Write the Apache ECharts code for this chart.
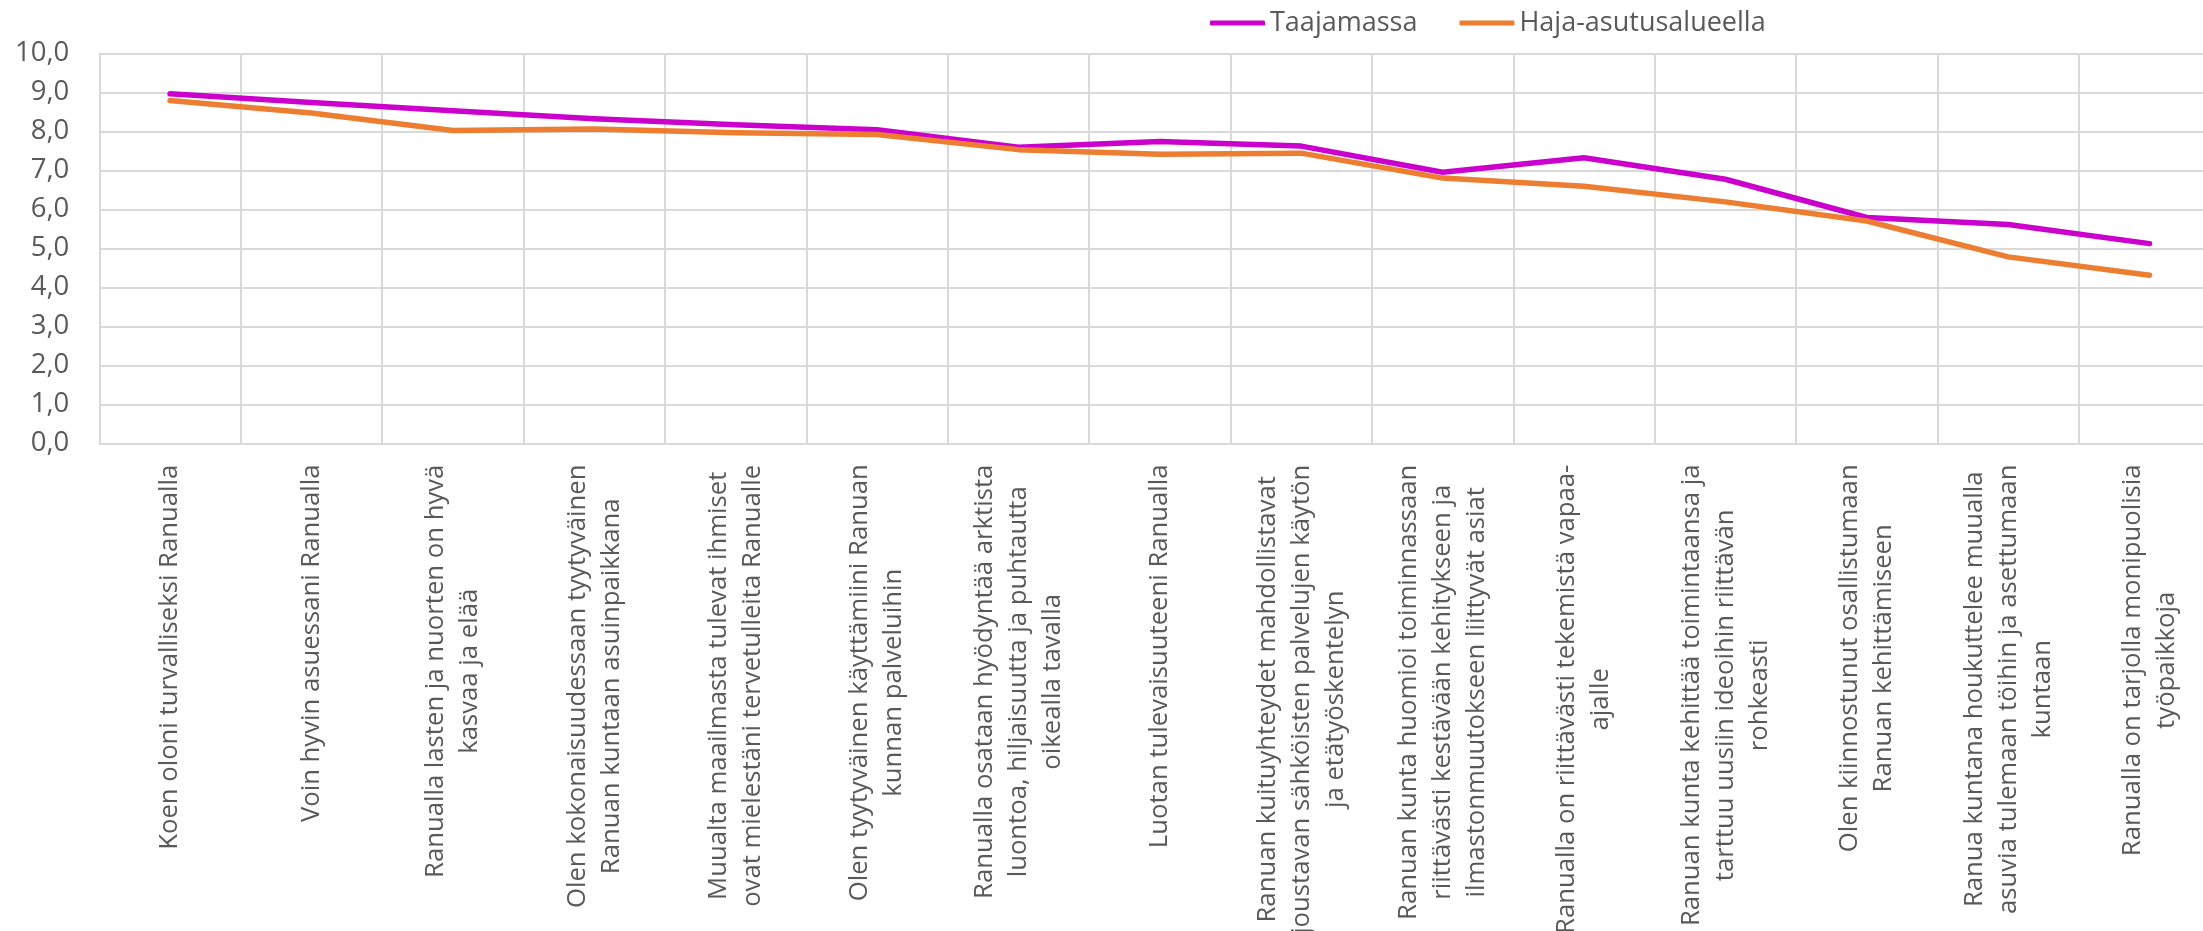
<!DOCTYPE html>
<html>
<head>
<meta charset="utf-8">
<script src="https://cdn.jsdelivr.net/npm/echarts@6/dist/echarts.min.js"></script>
<style>
html,body{margin:0;padding:0;background:#fff;overflow:hidden;width:2203px;height:931px;}
#wrap{width:2203px;height:931px;overflow:hidden;position:relative;}
#c{width:2240px;height:931px;position:absolute;left:0;top:0;}
</style>
</head>
<body>
<div id="wrap"><div id="c"></div></div>
<script>
const categories = [
  "Koen oloni turvalliseksi Ranualla",
  "Voin hyvin asuessani Ranualla",
  "Ranualla lasten ja nuorten on hyvä\nkasvaa ja elää",
  "Olen kokonaisuudessaan tyytyväinen\nRanuan kuntaan asuinpaikkana",
  "Muualta maailmasta tulevat ihmiset\novat mielestäni tervetulleita Ranualle",
  "Olen tyytyväinen käyttämiini Ranuan\nkunnan palveluihin",
  "Ranualla osataan hyödyntää arktista\nluontoa, hiljaisuutta ja puhtautta\noikealla tavalla",
  "Luotan tulevaisuuteeni Ranualla",
  "Ranuan kuituyhteydet mahdollistavat\njoustavan sähköisten palvelujen käytön\nja etätyöskentelyn",
  "Ranuan kunta huomioi toiminnassaan\nriittävästi kestävään kehitykseen ja\nilmastonmuutokseen liittyvät asiat",
  "Ranualla on riittävästi tekemistä vapaa-\najalle",
  "Ranuan kunta kehittää toimintaansa ja\ntarttuu uusiin ideoihin riittävän\nrohkeasti",
  "Olen kiinnostunut osallistumaan\nRanuan kehittämiseen",
  "Ranua kuntana houkuttelee muualla\nasuvia tulemaan töihin ja asettumaan\nkuntaan",
  "Ranualla on tarjolla monipuolisia\ntyöpaikkoja"
];
const seriesNames = ["Taajamassa", "Haja-asutusalueella"];
const taajamassa = [8.96, 8.74, 8.53, 8.32, 8.17, 8.04, 7.59, 7.74, 7.62, 6.95, 7.32, 6.77, 5.79, 5.61, 5.12];
const hajaAsutus = [8.79, 8.47, 8.02, 8.06, 7.96, 7.92, 7.53, 7.41, 7.44, 6.80, 6.59, 6.19, 5.70, 4.78, 4.31];
const yTicks = { min: 0, max: 10, interval: 1 };

const FONT = '"Open Sans"';
const LABEL_SIZE = 25.7;
const TEXT_COLOR = '#595959';
const GRID_COLOR = '#D9D9D9';

// measure longest line per label to center lines within the block
const cv = document.createElement('canvas').getContext('2d');
cv.font = LABEL_SIZE + 'px ' + FONT;
const rich = {};
categories.forEach((c, i) => {
  const w = Math.max(...c.split('\n').map(s => cv.measureText(s).width));
  rich['w' + i] = {
    width: Math.ceil(w) + 2,
    align: 'center',
    fontSize: LABEL_SIZE,
    fontFamily: FONT,
    color: TEXT_COLOR,
    lineHeight: 34
  };
});

const chart = echarts.init(document.getElementById('c'), null, { renderer: 'canvas', width: 2240, height: 931 });
chart.setOption({
  animation: false,
  backgroundColor: '#fff',
  textStyle: { fontFamily: FONT },
  legend: {
    data: seriesNames,
    left: 1210,
    top: 8,
    padding: 0,
    itemGap: 42,
    itemWidth: 55,
    itemHeight: 5,
    icon: 'roundRect',
    textStyle: { fontSize: 27, color: TEXT_COLOR, fontFamily: FONT, lineHeight: 30 }
  },
  grid: { left: 99.3, top: 53.3, width: 2121, height: 390, containLabel: false, outerBoundsMode: 'none' },
  xAxis: {
    type: 'category',
    data: categories,
    boundaryGap: true,
    axisTick: { show: false },
    axisLine: { show: true, lineStyle: { color: GRID_COLOR, width: 2 } },
    splitLine: { show: true, interval: 0, lineStyle: { color: GRID_COLOR, width: 2 } },
    axisLabel: {
      interval: 0,
      rotate: 90,
      margin: 20,
      fontSize: LABEL_SIZE,
      fontFamily: FONT,
      color: TEXT_COLOR,
      lineHeight: 34,
      rich: rich,
      formatter: (v, i) => v.split('\n').map(s => '{w' + i + '|' + s + '}').join('\n')
    }
  },
  yAxis: {
    type: 'value',
    min: yTicks.min,
    max: yTicks.max,
    interval: yTicks.interval,
    axisLine: { show: true, lineStyle: { color: GRID_COLOR, width: 2 } },
    axisTick: { show: false },
    splitLine: { show: true, lineStyle: { color: GRID_COLOR, width: 2 } },
    axisLabel: {
      margin: 30,
      fontSize: 27.5,
      fontFamily: FONT,
      color: TEXT_COLOR,
      formatter: v => v.toFixed(1).replace('.', ',')
    }
  },
  series: [
    {
      name: seriesNames[0],
      type: 'line',
      data: taajamassa,
      symbol: 'none',
      color: '#CC00CC',
      lineStyle: { width: 5.5, cap: 'round', join: 'round' }
    },
    {
      name: seriesNames[1],
      type: 'line',
      data: hajaAsutus,
      symbol: 'none',
      color: '#ED7D31',
      lineStyle: { width: 5.5, cap: 'round', join: 'round' }
    }
  ]
});
</script>
</body>
</html>
